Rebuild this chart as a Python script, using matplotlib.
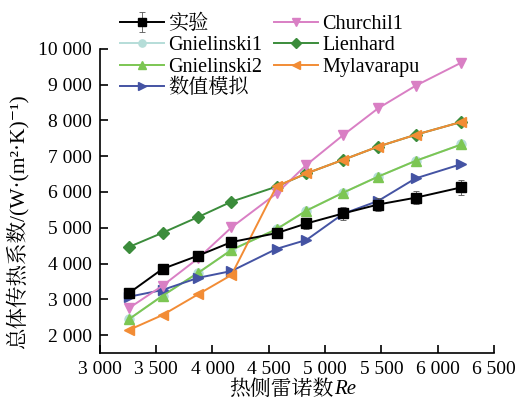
import numpy as np
import matplotlib.pyplot as plt
from matplotlib.ticker import FuncFormatter, MultipleLocator

serif_cjk = ['Liberation Serif', 'Noto Serif CJK SC', 'DejaVu Serif']
plt.rcParams['font.family'] = serif_cjk

# hot-side Reynolds number of each test point
re_hot = [3257, 3557, 3873, 4169, 4569, 4835, 5160, 5471, 5803, 6211]

# overall heat transfer coefficient, W/(m2 K)
k_exp = [3170, 3850, 4220, 4600, 4850, 5120, 5400, 5650, 5840, 6130]
k_exp_err = [60, 80, 110, 120, 130, 160, 180, 170, 180, 210]
k_churchill = [2750, 3380, 4145, 5010, 5960, 6760, 7590, 8340, 8970, 9620]
k_gniel1 = [2440, 3100, 3740, 4380, 4960, 5480, 5980, 6430, 6870, 7330]
k_lienhard = [4460, 4860, 5300, 5730, 6150, 6520, 6900, 7270, 7600, 7960]
k_gniel2 = [2440, 3100, 3740, 4380, 4960, 5480, 5980, 6430, 6870, 7330]
k_mylavarapu = [2140, 2560, 3140, 3680, 6160, 6520, 6900, 7270, 7600, 7960]
k_sim = [3070, 3260, 3600, 3790, 4410, 4660, 5390, 5750, 6380, 6780]

x_ticks = [3000, 3500, 4000, 4500, 5000, 5500, 6000, 6500]
y_ticks = [2000, 3000, 4000, 5000, 6000, 7000, 8000, 9000, 10000]

fig = plt.figure(figsize=(5.2, 4.08), dpi=100)
ax = fig.add_axes([0.192, 0.135, 0.758, 0.745])

lw = 1.4
ms = 6.5
h_exp = ax.errorbar(re_hot, k_exp, yerr=k_exp_err, color='black', marker='s',
                    ms=ms, lw=lw, capsize=2.5, elinewidth=0.6, ecolor='#555555',
                    capthick=0.6, zorder=9)
h_gn1, = ax.plot(re_hot, k_gniel1, color='#b5ddd8', marker='o', ms=ms, lw=lw, zorder=2)
h_gn2, = ax.plot(re_hot, k_gniel2, color='#7cc653', marker='^', ms=ms + 1, lw=lw, zorder=4)
h_sim, = ax.plot(re_hot, k_sim, color='#4453a3', marker='>', ms=ms + 1, lw=lw, zorder=5)
h_ch, = ax.plot(re_hot, k_churchill, color='#d97fc4', marker='v', ms=ms + 1, lw=lw, zorder=6)
h_li, = ax.plot(re_hot, k_lienhard, color='#3b8c3b', marker='D', ms=ms - 0.5, lw=lw, zorder=3)
h_my, = ax.plot(re_hot, k_mylavarapu, color='#f28c35', marker='<', ms=ms + 1, lw=lw, zorder=7)

ax.set_xlim(3000, 6500)
ax.set_ylim(1500, 10000)
ax.set_xticks(x_ticks)
ax.set_yticks(y_ticks)

thousands = FuncFormatter(lambda v, p: f'{int(v):,}'.replace(',', ' '))
ax.xaxis.set_major_formatter(thousands)
ax.yaxis.set_major_formatter(thousands)

for side in ('top', 'right'):
    ax.spines[side].set_visible(False)
for side in ('left', 'bottom'):
    ax.spines[side].set_linewidth(1.2)
ax.tick_params(direction='in', length=6, width=1.2, labelsize=14, pad=6)
plt.setp(ax.get_xticklabels() + ax.get_yticklabels(), family=serif_cjk)

# axis titles: CJK part plus italic Re
fig.text(334 / 520, 1 - 390 / 408, '热侧雷诺数', fontsize=15, family=serif_cjk,
         ha='right', va='center')
fig.text(334 / 520, 1 - 390 / 408, 'Re', fontsize=15, style='italic',
         family='Liberation Serif', ha='left', va='center')
fig.text(17 / 520, 1 - 222 / 408, '总体传热系数/(W·(m²·K)⁻¹)', fontsize=15.5,
         family=serif_cjk, rotation=90, ha='center', va='center')

ax.legend(handles=[h_exp, h_gn1, h_gn2, h_sim, h_ch, h_li, h_my],
          labels=['实验', 'Gnielinski1', 'Gnielinski2', '数值模拟',
                  'Churchil1', 'Lienhard', 'Mylavarapu'],
          ncol=2, frameon=False, prop={'family': serif_cjk, 'size': 14.5},
          loc='upper left', bbox_to_anchor=(0.05, 1.115), handlelength=2.2,
          handletextpad=0.2, labelspacing=0.12, columnspacing=0.6,
          borderaxespad=0, borderpad=0, markerscale=0.8)

fig.savefig('out.png', dpi=100)
